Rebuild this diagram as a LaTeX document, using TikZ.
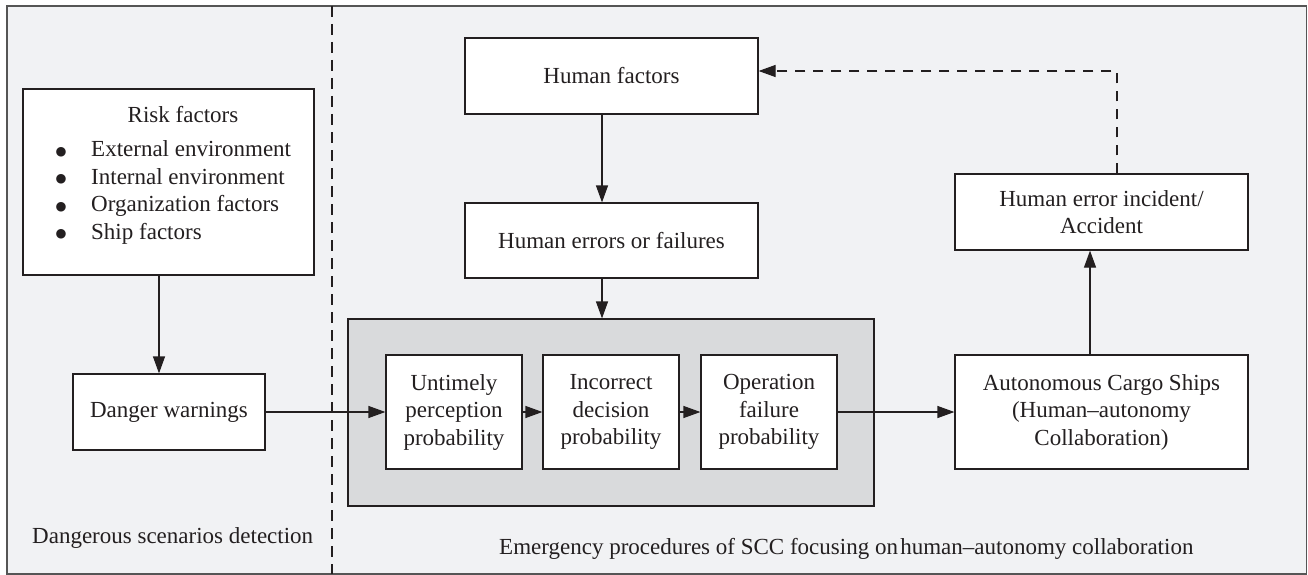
\documentclass[tikz,border=0pt]{standalone}
\usepackage{fontspec}
\setmainfont{Liberation Serif}
\newfontfamily\bulfont{DejaVu Sans}
\usetikzlibrary{arrows.meta}
\definecolor{bg}{HTML}{F1F2F4}
\definecolor{grayfill}{HTML}{D9DADC}
\definecolor{ink}{HTML}{231F20}
\definecolor{framec}{HTML}{555555}
\newcommand{\bigbul}{\makebox[37.2pt][l]{\makebox[14.4pt][c]{\raisebox{1.8pt}{\bulfont\fontsize{12.5}{12.5}\selectfont ●}}}}
\tikzset{
  txt/.style={font=\fontsize{23}{27.5}\selectfont, text=ink},
  box/.style={txt, draw=ink, line width=1.2pt, fill=white, align=center, inner sep=0pt},
  arr/.style={draw=ink, line width=1.2pt, -{Triangle[length=17pt,width=12pt]}},
  dasharr/.style={arr, dash pattern=on 10pt off 8pt},
}
\begin{document}
\begin{tikzpicture}[x=1pt,y=-1pt]
\useasboundingbox (0,0) rectangle (1308,575);
% frame
\draw[framec, fill=bg, line width=1.5pt] (7,6) rectangle (1306.5,574);
\draw[ink, line width=1.2pt, dash pattern=on 11pt off 7pt] (332,6) -- (332,574);
% gray group
\node[draw=ink, line width=1.2pt, fill=grayfill, minimum width=526pt, minimum height=187pt, inner sep=0pt] (gray) at (611,412.5) {};
% boxes
\node[box, minimum width=291pt, minimum height=186pt] (rf) at (168.5,182) {};
\node[txt, anchor=base] (rft) at (183,123) {Risk factors};
\node[txt, anchor=base west, inner sep=0pt] (items) at (53.8,157) {\begin{tabular}[t]{@{}l@{}}\bigbul External environment\\ \bigbul Internal environment\\ \bigbul Organization factors\\ \bigbul Ship factors\end{tabular}};
\node[box, minimum width=192pt, minimum height=76pt] (dw) at (169,412) {Danger warnings};
\node[box, minimum width=293pt, minimum height=76pt] (hf) at (611.5,76) {Human factors};
\node[box, minimum width=293pt, minimum height=75pt] (he) at (611.5,240.5) {Human errors or failures};
\node[box, minimum width=136pt, minimum height=114pt] (up) at (454,412) {Untimely\\perception\\probability};
\node[box, minimum width=136pt, minimum height=114pt] (ic) at (611,412) {Incorrect\\decision\\probability};
\node[box, minimum width=136pt, minimum height=114pt] (op) at (769,412) {Operation\\failure\\probability};
\node[box, minimum width=293pt, minimum height=114pt] (acs) at (1101.5,412) {Autonomous Cargo Ships\\(Human–autonomy\\Collaboration)};
\node[box, minimum width=293pt, minimum height=76pt] (hei) at (1101.5,212) {Human error incident/\\Accident};
% captions
\node[txt, anchor=base west, inner sep=0pt] (cap1) at (32,543) {Dangerous scenarios detection};
\node[txt, anchor=base west, inner sep=0pt] (cap2) at (499,554) {Emergency procedures of SCC focusing on\hspace{0.1em}human–autonomy collaboration};
% coordinates
\coordinate (xa) at (159,0);
\coordinate (xb) at (602,0);
\coordinate (xc) at (1090,0);
\coordinate (xd) at (1117,71);
% connectors
\draw[arr] (rf.south -| xa) -- (dw.north -| xa);
\draw[arr] (dw.east) -- (up.west);
\draw[arr] (up.east) -- (ic.west);
\draw[arr] (ic.east) -- (op.west);
\draw[arr] (op.east) -- (acs.west);
\draw[arr] (hf.south -| xb) -- (he.north -| xb);
\draw[arr] (he.south -| xb) -- (gray.north -| xb);
\draw[arr] (acs.north -| xc) -- (hei.south -| xc);
\draw[dasharr] (hei.north -| xd) -- (xd) -- (xd -| hf.east);
\end{tikzpicture}
\end{document}
